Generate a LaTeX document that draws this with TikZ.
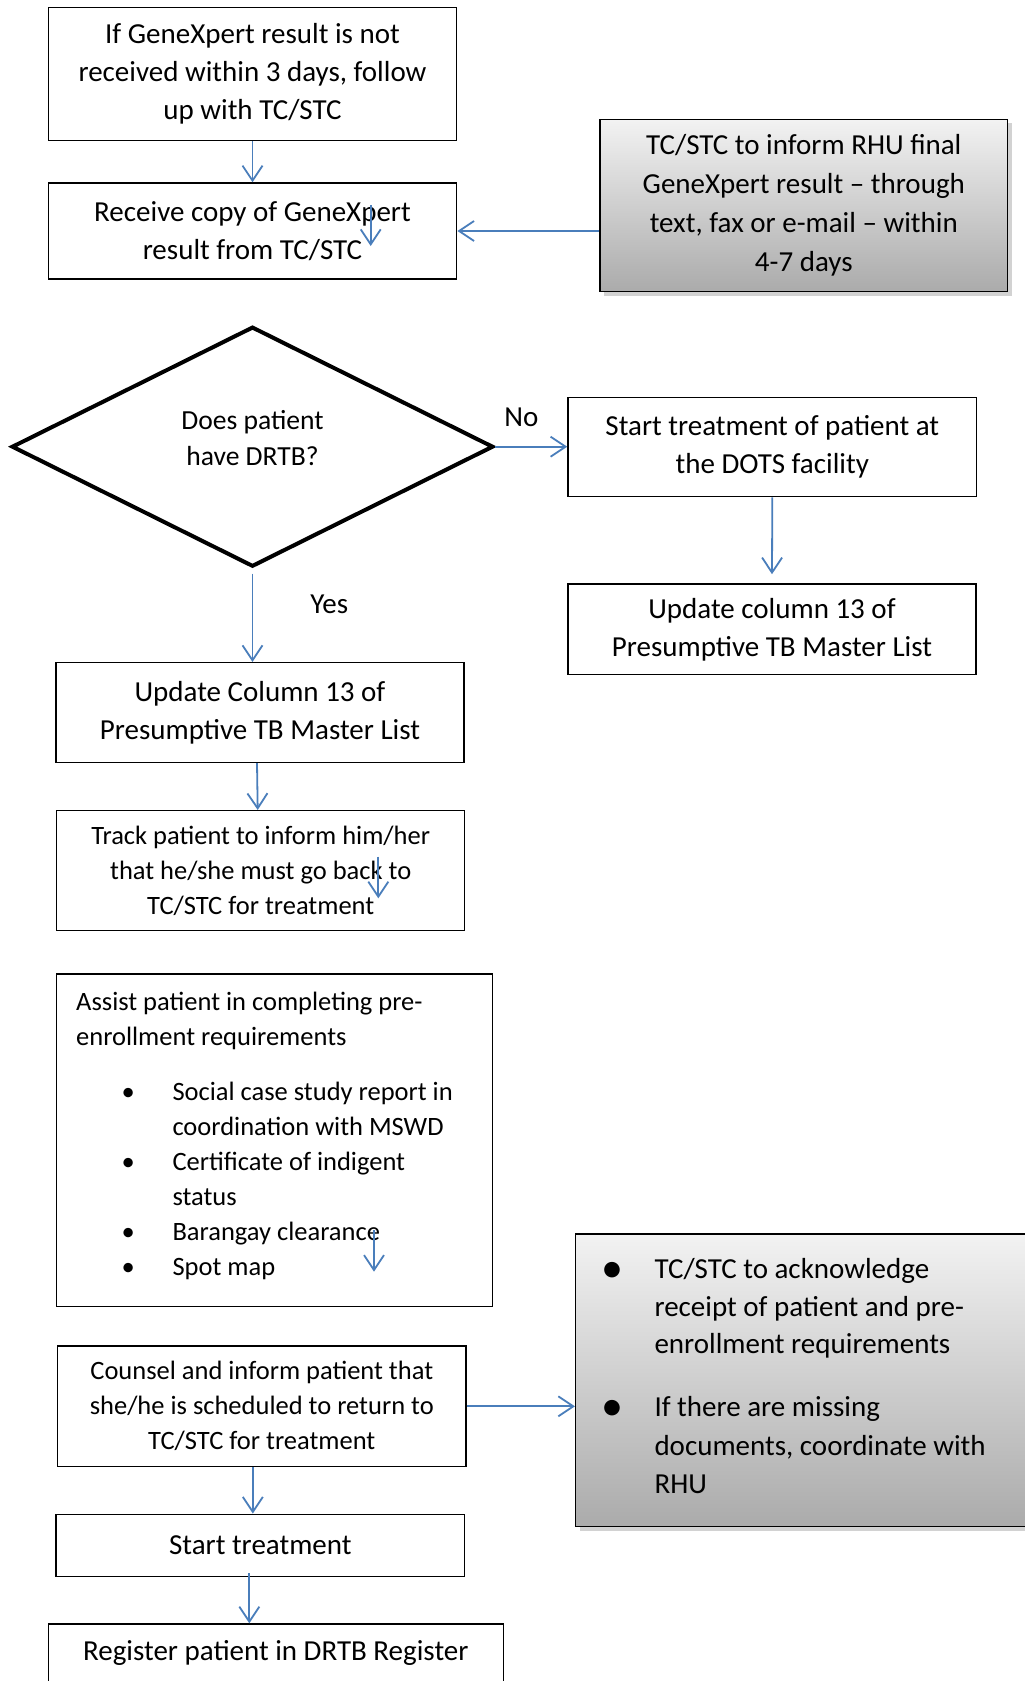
\documentclass[tikz,border=0pt]{standalone}
\usepackage{fontspec}
\setmainfont{Carlito}
\usetikzlibrary{arrows.meta,shapes.geometric,shadows,calc}
\definecolor{conn}{HTML}{4A7EBB}
\begin{document}
\begin{tikzpicture}[x=1pt,y=-1pt,
  box/.style={draw=black, line width=1.5pt, inner sep=0pt, align=center, font=\fontsize{29pt}{38pt}\selectfont},
  boxB/.style={box, font=\fontsize{26.5pt}{35pt}\selectfont},
  gbox/.style={box, top color=black!5, bottom color=black!33, drop shadow={shadow xshift=4pt, shadow yshift=-4pt, opacity=0.35}},
  arr/.style={draw=conn, line width=1.8pt, -{Straight Barb[length=15pt,width=20pt]}},
  tA/.style={inner sep=0pt, font=\fontsize{29pt}{38pt}\selectfont},
  tB/.style={inner sep=0pt, font=\fontsize{26.5pt}{35pt}\selectfont},
  bulA/.style={inner sep=0pt, font=\fontsize{26.5pt}{35pt}\selectfont},
  bulB/.style={inner sep=0pt, font=\fontsize{44pt}{38pt}\selectfont},
]
\useasboundingbox (0,0) rectangle (1025,1681);
\fill[white] (0,0) rectangle (1025,1681);

% top boxes
\node[box, minimum width=408.4pt, minimum height=133pt] (b1) at (252.5,73.8)
  {If GeneXpert result is not\\received within 3 days, follow\\up with TC/STC};
\node[box, minimum width=408.4pt, minimum height=96pt] (b2) at (252.5,231)
  {Receive copy of GeneXpert\\result from TC/STC};
\node[gbox, minimum width=407.7pt, minimum height=172.4pt, font=\fontsize{29pt}{39pt}\selectfont] (g1) at (803.8,205.5)
  {TC/STC to inform RHU final\\GeneXpert result -- through\\text, fax or e-mail -- within\\4-7 days};

% decision
\node[diamond, draw, line width=4pt, minimum width=481.6pt, minimum height=240pt, inner sep=0pt] (dec) at (252.5,446.7) {};
\node[tA, align=center, font=\fontsize{27.6pt}{36.5pt}\selectfont] (decT) at (252.5,438) {Does patient\\have DRTB?};
\node[tA, anchor=base] (no) at (521.5,426.7) {No};
\node[tA, anchor=base] (yes) at (329.2,613.3) {Yes};

% right branch
\node[box, minimum width=408.7pt, minimum height=99.4pt] (sa) at (772.3,447)
  {Start treatment of patient at\\the DOTS facility};
\node[box, minimum width=408pt, minimum height=90.7pt] (ur) at (772,629.3)
  {Update column 13 of\\Presumptive TB Master List};

% left branch
\node[box, minimum width=408pt, minimum height=99.6pt] (ul) at (260,712.5)
  {Update Column 13 of\\Presumptive TB Master List};
\node[boxB, minimum width=408pt, minimum height=120pt] (tr) at (260.7,870.7)
  {Track patient to inform him/her\\that he/she must go back to\\TC/STC for treatment};

% assist box
\node[box, minimum width=436pt, minimum height=332.7pt] (as) at (274.7,1140.3) {};
\node[tB, anchor=base west] (a1) at (76,1010) {Assist patient in completing pre-};
\node[tB, anchor=base west] (a2) at (76,1045) {enrollment requirements};
\node[bulA, anchor=base] (ab1) at (128.3,1100) {•};
\node[tB, anchor=base west] (a3) at (172.3,1100) {Social case study report in};
\node[tB, anchor=base west] (a4) at (172.3,1135) {coordination with MSWD};
\node[bulA, anchor=base] (ab2) at (128.3,1170) {•};
\node[tB, anchor=base west] (a5) at (172.3,1170) {Certificate of indigent};
\node[tB, anchor=base west] (a6) at (172.3,1205) {status};
\node[bulA, anchor=base] (ab3) at (128.3,1240) {•};
\node[tB, anchor=base west] (a7) at (172.3,1240) {Barangay clearance};
\node[bulA, anchor=base] (ab4) at (128.3,1275) {•};
\node[tB, anchor=base west] (a8) at (172.3,1275) {Spot map};

% counsel and gray 2
\node[boxB, minimum width=408.3pt, minimum height=120.7pt] (cn) at (261.8,1406.3)
  {Counsel and inform patient that\\she/he is scheduled to return to\\TC/STC for treatment};
\node[gbox, minimum width=470pt, minimum height=292.7pt] (g2) at (810.7,1380.35) {};
\node[bulB, anchor=base] (gb1) at (612.7,1282) {•};
\node[tA, anchor=base west] (g2a) at (654.3,1278) {TC/STC to acknowledge};
\node[tA, anchor=base west] (g2b) at (654.3,1316.7) {receipt of patient and pre-};
\node[tA, anchor=base west] (g2c) at (654.3,1353) {enrollment requirements};
\node[bulB, anchor=base] (gb2) at (612.7,1420.7) {•};
\node[tA, anchor=base west] (g2d) at (654.3,1416.7) {If there are missing};
\node[tA, anchor=base west] (g2e) at (654.3,1455) {documents, coordinate with};
\node[tA, anchor=base west] (g2f) at (654.3,1493) {RHU};

% bottom boxes
\node[box, minimum width=408.7pt, minimum height=62.4pt] (st) at (260.3,1545.5) {Start treatment};
\node[box, anchor=north, minimum width=455pt, minimum height=100pt] (rg) at (275.8,1623.3) {};
\node[tA, anchor=base] (rgT) at (275.8,1660) {Register patient in DRTB Register};

% stray arrow coordinates
\coordinate (s1a) at (370.7,205);   \coordinate (s1b) at (370.7,246);
\coordinate (s2a) at (378.3,856.7); \coordinate (s2b) at (378.3,898.3);
\coordinate (s3a) at (374,1230);    \coordinate (s3b) at (374,1271.7);

% connectors
\draw[arr] (b1.south) -- (b2.north);
\draw[arr] (g1.west |- b2.east) -- (b2.east);
\draw[arr] (dec.east) -- (dec.east -| sa.west);
\draw[arr] (sa.south) -- ([yshift=9pt]ur.north);
\draw[arr] ([yshift=-5pt]dec.south) -- (dec.south |- ul.north);
\draw[arr] ([xshift=-3pt]ul.south) -- ([xshift=-3pt]tr.north);
\draw[arr] (cn.east) -- (cn.east -| g2.west);
\draw[arr] ([xshift=-9pt]cn.south) -- ([xshift=-9pt]cn.south |- st.north);
\draw[arr] ([xshift=-11pt,yshift=4pt]st.south) -- ([xshift=-11pt]st.south |- rg.north);
\draw[arr] (s1a) -- (s1b);
\draw[arr] (s2a) -- (s2b);
\draw[arr] (s3a) -- (s3b);
\end{tikzpicture}
\end{document}
